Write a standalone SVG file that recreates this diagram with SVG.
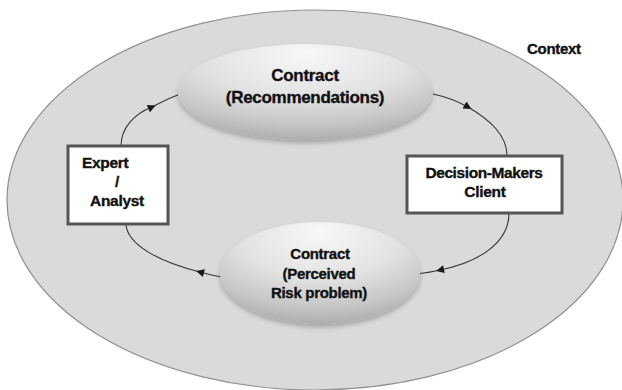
<svg xmlns="http://www.w3.org/2000/svg" width="622" height="390" viewBox="0 0 622 390">
<style>
.t{font-family:"Liberation Sans",Arial,sans-serif;font-weight:bold;fill:#111;stroke:#111;stroke-width:0.35;}
.c{text-anchor:middle;}
.box{fill:#ffffff;stroke:#555555;stroke-width:3;}
.conn{fill:none;stroke:#333333;stroke-width:1.1;marker-mid:url(#ah);}
.oval{fill:url(#og);filter:url(#sh);}
</style>
<defs>
<radialGradient id="og" cx="50%" cy="22%" r="80%" fx="50%" fy="10%">
<stop offset="0" stop-color="#f8f8f8"/>
<stop offset="0.5" stop-color="#e2e2e2"/>
<stop offset="0.8" stop-color="#c6c6c6"/>
<stop offset="1" stop-color="#ababab"/>
</radialGradient>
<filter id="sh" x="-10%" y="-10%" width="120%" height="130%">
<feDropShadow dx="0" dy="3" stdDeviation="2.5" flood-color="#000" flood-opacity="0.25"/>
</filter>
<marker id="ah" viewBox="0 0 10 10" refX="5" refY="5" markerWidth="9" markerHeight="8" markerUnits="userSpaceOnUse" orient="auto">
<path d="M0,0 L10,5 L0,10 z" fill="#1a1a1a"/>
</marker>
</defs>
<rect width="622" height="390" fill="#ffffff"/>
<g id="context">
<ellipse cx="315" cy="200" rx="308" ry="190" fill="#dadada" stroke="#909090" stroke-width="1.2"/>
<text class="t" x="527" y="54" font-size="15" letter-spacing="-0.3">Context</text>
</g>
<g id="connectors">
<path class="conn" d="M121,146 C121,128 134,114 152,107 C160,103 169,98 178,95"/>
<path class="conn" d="M433,94 C447,97 459,102 468,107 C490,120 507,135 507,156"/>
<path class="conn" d="M509,213 C509,245 475,263 440,270 C432,272 425,273 417,274"/>
<path class="conn" d="M222,277 C214,276 207,274 200,272 C160,262 127,245 126,224"/>
</g>
<g id="recommendations">
<ellipse class="oval" cx="305" cy="92" rx="127" ry="48"/>
<text class="t c" x="305" y="81" font-size="17" letter-spacing="-0.3">Contract</text>
<text class="t c" x="305" y="103" font-size="17" letter-spacing="-0.3">(Recommendations)</text>
</g>
<g id="expert">
<rect class="box" x="68" y="146" width="100" height="78"/>
<text class="t" x="82" y="168" font-size="15.5" letter-spacing="-0.3">Expert</text>
<text class="t" x="115" y="187" font-size="15.5">/</text>
<text class="t" x="90" y="206" font-size="15.5" letter-spacing="-0.3">Analyst</text>
</g>
<g id="decision">
<rect class="box" x="407" y="156" width="155" height="57"/>
<text class="t c" x="484" y="178" font-size="15.5" letter-spacing="-0.4">Decision-Makers</text>
<text class="t c" x="485" y="197" font-size="15.5" letter-spacing="-0.3">Client</text>
</g>
<g id="perceived">
<ellipse class="oval" cx="320" cy="273" rx="100" ry="51"/>
<text class="t c" x="320" y="259" font-size="15" letter-spacing="-0.3">Contract</text>
<text class="t c" x="319" y="279" font-size="15" letter-spacing="-0.3">(Perceived</text>
<text class="t c" x="319" y="298" font-size="15" letter-spacing="-0.3">Risk problem)</text>
</g>
</svg>
